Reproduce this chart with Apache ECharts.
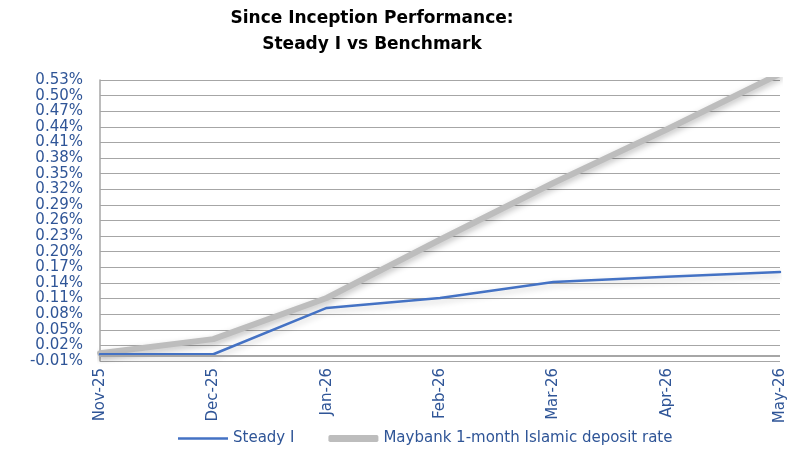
<!DOCTYPE html>
<html><head><meta charset="utf-8">
<script src="https://cdn.jsdelivr.net/npm/echarts@6/dist/echarts.min.js"></script>
<style>html,body{margin:0;padding:0;background:#fff}#c{width:798px;height:452px}</style>
</head><body><div id="c"></div>
<script>
const categories = ['Nov-25','Dec-25','Jan-26','Feb-26','Mar-26','Apr-26','May-26'];
const steadyI = [0.003, 0.003, 0.092, 0.111, 0.142, 0.152, 0.161];
const benchmark = [0.005, 0.032, 0.111, 0.223, 0.332, 0.435, 0.542];
const seriesNames = ['Steady I', 'Maybank 1-month Islamic deposit rate'];
const titleLines = ['Since Inception Performance:', 'Steady I vs Benchmark'];

const FONT = '"DejaVu Sans", sans-serif';
const BLUE_TXT = '#2F5597';
const chart = echarts.init(document.getElementById('c'), null, {renderer: 'canvas'});
chart.setOption({
  animation: false,
  title: {
    text: titleLines.join('\n'),
    left: 372, top: 6, padding: 0, textAlign: 'center',
    textStyle: {fontFamily: FONT, fontSize: 17, fontWeight: 'bold', color: '#000', lineHeight: 26}
  },
  legend: {
    bottom: 1, left: 173, itemGap: 34, itemWidth: 50, itemHeight: 7,
    textStyle: {fontFamily: FONT, fontSize: 15, color: BLUE_TXT},
    data: [
      {name: seriesNames[0], icon: 'path://M0,2.5 L50,2.5 L50,5 L0,5 Z', itemStyle: {color: '#4472C4'}},
      {name: seriesNames[1], icon: 'roundRect', itemStyle: {color: '#BDBDBD'}}
    ]
  },
  grid: {left: 100, right: 18, top: 80, bottom: 91, containLabel: false},
  xAxis: {
    type: 'category', data: categories, boundaryGap: false,
    axisLine: {onZero: false, show: false},
    axisTick: {show: false},
    axisLabel: {rotate: 90, fontFamily: FONT, fontSize: 15, color: BLUE_TXT, margin: 7,
      showMinLabel: true, showMaxLabel: true, hideOverlap: false},
    splitLine: {show: false}
  },
  yAxis: {
    type: 'value', min: -0.01, max: 0.53, interval: 0.03,
    axisLine: {show: true, lineStyle: {color: '#A6A6A6', width: 1.5}},
    axisTick: {show: false},
    axisLabel: {fontFamily: FONT, fontSize: 15, color: BLUE_TXT, margin: 17,
      showMinLabel: true, showMaxLabel: true, hideOverlap: false,
      formatter: v => v.toFixed(2) + '%'},
    splitLine: {show: true, lineStyle: {color: '#A6A6A6', width: 1}}
  },
  series: [
    {
      name: seriesNames[1], type: 'line', data: benchmark, symbol: 'none', z: 2,
      lineStyle: {color: '#BDBDBD', width: 6, cap: 'round', join: 'round',
        shadowColor: 'rgba(0,0,0,0.25)', shadowBlur: 6, shadowOffsetY: 3},
      itemStyle: {color: '#BDBDBD'},
      markLine: {silent: true, symbol: 'none', label: {show: false},
        lineStyle: {color: '#A6A6A6', width: 2, type: 'solid'},
        data: [{yAxis: 0}]}
    },
    {
      name: seriesNames[0], type: 'line', data: steadyI, symbol: 'none', z: 3,
      lineStyle: {color: '#4472C4', width: 2.5, cap: 'round', join: 'round',
        shadowColor: 'rgba(0,0,0,0.2)', shadowBlur: 6, shadowOffsetY: 3},
      itemStyle: {color: '#4472C4'}
    }
  ]
});
</script></body></html>
